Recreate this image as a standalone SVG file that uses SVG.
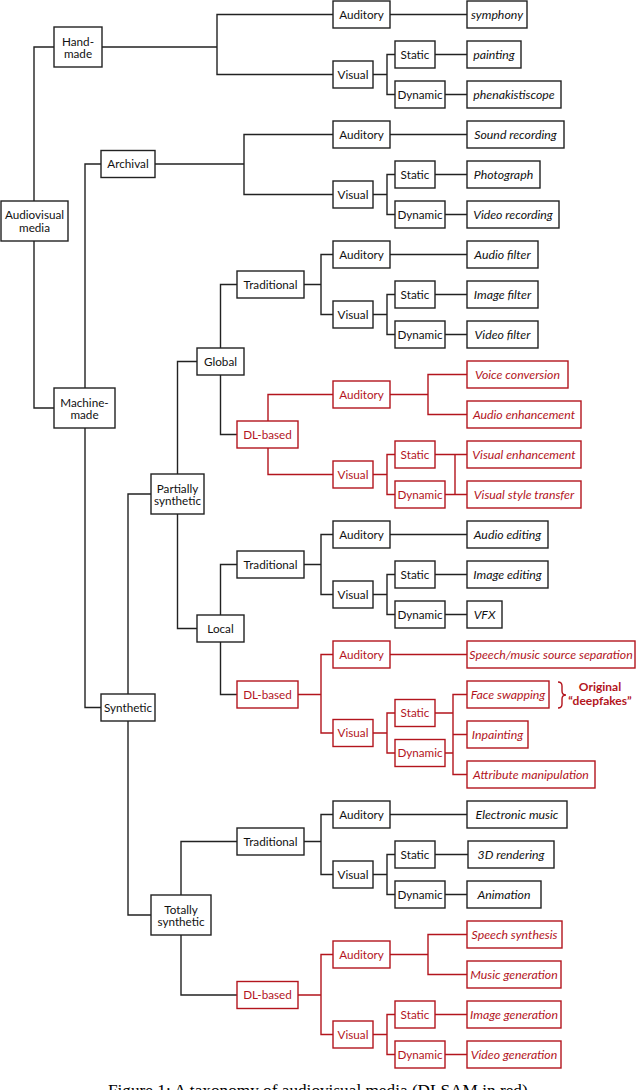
<svg xmlns="http://www.w3.org/2000/svg" width="640" height="1090" viewBox="0 0 640 1090">
<style>
rect{fill:#fff;stroke:#222;stroke-width:1.4}
.r rect{stroke:#b3151d}
text{font-family:Lato,"Open Sans","Liberation Sans",sans-serif;font-size:11.7px;text-anchor:middle;fill:#111}
.r text{fill:#b3151d}
.i text{font-style:italic;font-size:12.3px}
#connectors path{fill:none;stroke:#222;stroke-width:1.4}
#connectors .red path{stroke:#b3151d}
.cap{font-family:"Liberation Serif",serif;font-size:17px;fill:#000}
</style>
<rect x="0" y="0" width="640" height="1090" style="fill:#fff;stroke:none"/>
<g id="connectors">
<g class="blk">
<path d="M54,47H34V201M34,241V408H54"/>
<path d="M101,164H85V388M85,428V707.5H101"/>
<path d="M151,494H128V694M128,721V915H151"/>
<path d="M197,361.5H177.5V474M177.5,514V628.5H197"/>
<path d="M237,841.5H181V895M181,935V995H237"/>
<path d="M237,284.5H220.5V348M220.5,375V434.5H237"/>
<path d="M237,564.5H220.5V615M220.5,642V694.5H237"/>
<path d="M102,47H217M333,14.5H217V74.5H333"/>
<path d="M155,164H244M333,134.5H244V194.5H333"/>
<path d="M304,284.5H321M333,254.5H321V314.5H333"/>
<path d="M304,564.5H321M333,534.5H321V594.5H333"/>
<path d="M304,841.5H321M333,814.5H321V874.5H333"/>
<path d="M390,14.5H467M373,74.5H387M395,54.5H387V94.5H395M435,54.5H467M445,94.5H467"/>
<path d="M390,134.5H467M373,194.5H387M395,174.5H387V214.5H395M435,174.5H467M445,214.5H467"/>
<path d="M390,254.5H467M373,314.5H387M395,294.5H387V334.5H395M435,294.5H467M445,334.5H467"/>
<path d="M390,534.5H467M373,594.5H387M395,574.5H387V614.5H395M435,574.5H467M445,614.5H467"/>
<path d="M390,814.5H467M373,874.5H387M395,854.5H387V894.5H395M435,854.5H468M445,894.5H467"/>
</g>
<g class="red">
<path d="M333,394.5H268V421M268,448V474.5H333"/>
<path d="M390,394.5H428M467,374.5H428V414.5H467"/>
<path d="M373,474.5H387M395,454.5H387V494.5H395M435,454.5H467M445,494.5H467M455,454.5V494.5"/>
<path d="M298,694.5H321M333,654.5H321V733H333"/>
<path d="M390,654.5H467"/>
<path d="M373,733H387M395,713H387V753H395M435,713H453M445,753H453M467,694.5H453V774.5H467M453,734.5H467"/>
<path d="M298,995H321M333,954.5H321V1034.5H333"/>
<path d="M390,954.5H428M467,934.5H428V974.5H467"/>
<path d="M373,1034.5H387M395,1014.5H387V1054.5H395M435,1014.5H467M445,1054.5H467"/>
<path d="M558,682q4,0 4,4v5q0,4 4,4q-4,0 -4,4v5q0,4 -4,4"/>
</g>
</g>

<g id="n_av"><rect x="1" y="201" width="67" height="40"/><text x="34.5" y="219">Audiovisual</text><text x="34.5" y="232">media</text></g>
<g id="n_hand"><rect x="54" y="27" width="48" height="40"/><text x="78" y="45.5">Hand-</text><text x="78" y="58">made</text></g>
<g id="n_machine"><rect x="54" y="388" width="61" height="40"/><text x="84.5" y="406.5">Machine-</text><text x="84.5" y="419">made</text></g>
<g id="n_archival"><rect x="101" y="150.5" width="54" height="27"/><text x="128" y="168">Archival</text></g>
<g id="n_synthetic"><rect x="101" y="694" width="54" height="27"/><text x="128" y="711.5">Synthetic</text></g>
<g id="n_partial"><rect x="151" y="474" width="53" height="40"/><text x="177.5" y="492.5">Partially</text><text x="177.5" y="505">synthetic</text></g>
<g id="n_total"><rect x="151" y="895" width="60" height="40"/><text x="181" y="913.5">Totally</text><text x="181" y="926">synthetic</text></g>
<g id="n_global"><rect x="197" y="348" width="47" height="27"/><text x="220.5" y="365.5">Global</text></g>
<g id="n_local"><rect x="197" y="615" width="47" height="27"/><text x="220.5" y="632.5">Local</text></g>
<g id="n_g_trad"><rect x="237" y="271" width="67" height="27"/><text x="270.5" y="288.5">Traditional</text></g>
<g id="n_g_dl" class="r"><rect x="237" y="421" width="61" height="27"/><text x="267.5" y="438.5">DL-based</text></g>
<g id="n_l_trad"><rect x="237" y="551" width="67" height="27"/><text x="270.5" y="568.5">Traditional</text></g>
<g id="n_l_dl" class="r"><rect x="237" y="681" width="61" height="27"/><text x="267.5" y="698.5">DL-based</text></g>
<g id="n_t_trad"><rect x="237" y="828" width="67" height="27"/><text x="270.5" y="845.5">Traditional</text></g>
<g id="n_t_dl" class="r"><rect x="237" y="981.5" width="61" height="27"/><text x="267.5" y="999">DL-based</text></g>

<g id="n_h_aud"><rect x="333" y="1" width="57" height="27"/><text x="361.5" y="18.5">Auditory</text></g>
<g id="n_h_vis"><rect x="333" y="61" width="40" height="27"/><text x="353" y="78.5">Visual</text></g>
<g id="n_h_sta"><rect x="395" y="41" width="40" height="27"/><text x="415" y="58.5">Static</text></g>
<g id="n_h_dyn"><rect x="395" y="81" width="50" height="27"/><text x="420" y="98.5">Dynamic</text></g>
<g id="n_a_aud"><rect x="333" y="121" width="57" height="27"/><text x="361.5" y="138.5">Auditory</text></g>
<g id="n_a_vis"><rect x="333" y="181" width="40" height="27"/><text x="353" y="198.5">Visual</text></g>
<g id="n_a_sta"><rect x="395" y="161" width="40" height="27"/><text x="415" y="178.5">Static</text></g>
<g id="n_a_dyn"><rect x="395" y="201" width="50" height="27"/><text x="420" y="218.5">Dynamic</text></g>
<g id="n_gt_aud"><rect x="333" y="241" width="57" height="27"/><text x="361.5" y="258.5">Auditory</text></g>
<g id="n_gt_vis"><rect x="333" y="301" width="40" height="27"/><text x="353" y="318.5">Visual</text></g>
<g id="n_gt_sta"><rect x="395" y="281" width="40" height="27"/><text x="415" y="298.5">Static</text></g>
<g id="n_gt_dyn"><rect x="395" y="321" width="50" height="27"/><text x="420" y="338.5">Dynamic</text></g>
<g id="n_gd_aud" class="r"><rect x="333" y="381" width="57" height="27"/><text x="361.5" y="398.5">Auditory</text></g>
<g id="n_gd_vis" class="r"><rect x="333" y="461" width="40" height="27"/><text x="353" y="478.5">Visual</text></g>
<g id="n_gd_sta" class="r"><rect x="395" y="441" width="40" height="27"/><text x="415" y="458.5">Static</text></g>
<g id="n_gd_dyn" class="r"><rect x="395" y="481" width="50" height="27"/><text x="420" y="498.5">Dynamic</text></g>
<g id="n_lt_aud"><rect x="333" y="521" width="57" height="27"/><text x="361.5" y="538.5">Auditory</text></g>
<g id="n_lt_vis"><rect x="333" y="581" width="40" height="27"/><text x="353" y="598.5">Visual</text></g>
<g id="n_lt_sta"><rect x="395" y="561" width="40" height="27"/><text x="415" y="578.5">Static</text></g>
<g id="n_lt_dyn"><rect x="395" y="601" width="50" height="27"/><text x="420" y="618.5">Dynamic</text></g>
<g id="n_ld_aud" class="r"><rect x="333" y="641" width="57" height="27"/><text x="361.5" y="658.5">Auditory</text></g>
<g id="n_ld_vis" class="r"><rect x="333" y="719.5" width="40" height="27"/><text x="353" y="737">Visual</text></g>
<g id="n_ld_sta" class="r"><rect x="395" y="699.5" width="40" height="27"/><text x="415" y="717">Static</text></g>
<g id="n_ld_dyn" class="r"><rect x="395" y="739.5" width="50" height="27"/><text x="420" y="757">Dynamic</text></g>
<g id="n_tt_aud"><rect x="333" y="801" width="57" height="27"/><text x="361.5" y="818.5">Auditory</text></g>
<g id="n_tt_vis"><rect x="333" y="861" width="40" height="27"/><text x="353" y="878.5">Visual</text></g>
<g id="n_tt_sta"><rect x="395" y="841" width="40" height="27"/><text x="415" y="858.5">Static</text></g>
<g id="n_tt_dyn"><rect x="395" y="881" width="50" height="27"/><text x="420" y="898.5">Dynamic</text></g>
<g id="n_td_aud" class="r"><rect x="333" y="941" width="57" height="27"/><text x="361.5" y="958.5">Auditory</text></g>
<g id="n_td_vis" class="r"><rect x="333" y="1021" width="40" height="27"/><text x="353" y="1038.5">Visual</text></g>
<g id="n_td_sta" class="r"><rect x="395" y="1001" width="40" height="27"/><text x="415" y="1018.5">Static</text></g>
<g id="n_td_dyn" class="r"><rect x="395" y="1041" width="50" height="27"/><text x="420" y="1058.5">Dynamic</text></g>

<g id="l_symphony" class="i"><rect x="467" y="1" width="60" height="27"/><text x="497" y="18.5">symphony</text></g>
<g id="l_painting" class="i"><rect x="467" y="41" width="54" height="27"/><text x="494" y="58.5">painting</text></g>
<g id="l_phenak" class="i"><rect x="467" y="81" width="94" height="27"/><text x="514" y="98.5">phenakistiscope</text></g>
<g id="l_sound" class="i"><rect x="467" y="121" width="97" height="27"/><text x="515.5" y="138.5">Sound recording</text></g>
<g id="l_photo" class="i"><rect x="467" y="161" width="73" height="27"/><text x="503.5" y="178.5">Photograph</text></g>
<g id="l_video" class="i"><rect x="467" y="201" width="92" height="27"/><text x="513" y="218.5">Video recording</text></g>
<g id="l_afilter" class="i"><rect x="467" y="241" width="71" height="27"/><text x="502.5" y="258.5">Audio filter</text></g>
<g id="l_ifilter" class="i"><rect x="467" y="281" width="71" height="27"/><text x="502.5" y="298.5">Image filter</text></g>
<g id="l_vfilter" class="i"><rect x="467" y="321" width="71" height="27"/><text x="502.5" y="338.5">Video filter</text></g>
<g id="l_voice" class="i r"><rect x="467" y="361" width="101" height="27"/><text x="517.5" y="378.5">Voice conversion</text></g>
<g id="l_aenh" class="i r"><rect x="467" y="401" width="114" height="27"/><text x="524" y="418.5">Audio enhancement</text></g>
<g id="l_venh" class="i r"><rect x="467" y="441" width="114" height="27"/><text x="524" y="458.5">Visual enhancement</text></g>
<g id="l_vstyle" class="i r"><rect x="467" y="481" width="114" height="27"/><text x="524" y="498.5">Visual style transfer</text></g>
<g id="l_aedit" class="i"><rect x="467" y="521" width="81" height="27"/><text x="507.5" y="538.5">Audio editing</text></g>
<g id="l_iedit" class="i"><rect x="467" y="561" width="81" height="27"/><text x="507.5" y="578.5">Image editing</text></g>
<g id="l_vfx" class="i"><rect x="467" y="601" width="35" height="27"/><text x="484.5" y="618.5">VFX</text></g>
<g id="l_sep" class="i r"><rect x="467" y="641" width="168" height="27"/><text x="551" y="658.5">Speech/music source separation</text></g>
<g id="l_face" class="i r"><rect x="467" y="681" width="82" height="27"/><text x="508" y="698.5">Face swapping</text></g>
<g id="l_inpaint" class="i r"><rect x="467" y="721" width="61" height="27"/><text x="497.5" y="738.5">Inpainting</text></g>
<g id="l_attr" class="i r"><rect x="467" y="761" width="128" height="27"/><text x="531" y="778.5">Attribute manipulation</text></g>
<g id="l_emusic" class="i"><rect x="467" y="801" width="100" height="27"/><text x="517" y="818.5">Electronic music</text></g>
<g id="l_3d" class="i"><rect x="468" y="841" width="86" height="27"/><text x="511" y="858.5">3D rendering</text></g>
<g id="l_anim" class="i"><rect x="467" y="881" width="74" height="27"/><text x="504" y="898.5">Animation</text></g>
<g id="l_speech" class="i r"><rect x="467" y="921" width="95" height="27"/><text x="514.5" y="938.5">Speech synthesis</text></g>
<g id="l_music" class="i r"><rect x="467" y="961" width="94" height="27"/><text x="514" y="978.5">Music generation</text></g>
<g id="l_image" class="i r"><rect x="467" y="1001" width="94" height="27"/><text x="514" y="1018.5">Image generation</text></g>
<g id="l_vgen" class="i r"><rect x="467" y="1041" width="94" height="27"/><text x="514" y="1058.5">Video generation</text></g>

<g id="deepfakes_note" class="r"><text x="600" y="690.5" style="font-weight:bold;font-size:12px">Original</text><text x="600" y="704.5" style="font-weight:bold;font-size:12px">“deepfakes”</text></g>
<text class="cap" x="320" y="1095.5" textLength="424" lengthAdjust="spacingAndGlyphs">Figure 1: A taxonomy of audiovisual media (DLSAM in red).</text>
</svg>
